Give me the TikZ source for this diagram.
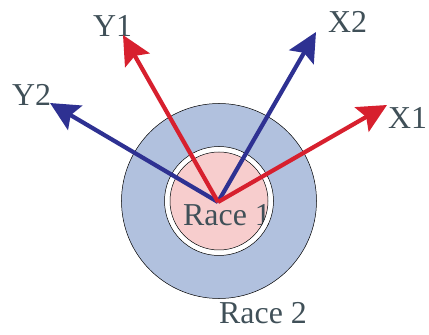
\documentclass[tikz,border=0pt]{standalone}
\usepackage{fontspec}
\setmainfont{Liberation Serif}
\usetikzlibrary{positioning,arrows.meta}
\definecolor{axred}{RGB}{215,32,46}
\definecolor{axblue}{RGB}{46,49,146}
\definecolor{racebl}{RGB}{177,193,222}
\definecolor{racepk}{RGB}{247,205,205}
\definecolor{txtgray}{RGB}{64,80,88}

\begin{document}
\begin{tikzpicture}[
  x=1bp, y=1bp,
  font=\fontsize{32}{34}\selectfont,
  ax/.style    = {-{Stealth[length=29bp, width=28bp, inset=5bp]}, line width=4.2bp},
  lab/.style   = {text=txtgray, inner sep=0pt, anchor=base west},
  ring/.style  = {draw=black, line width=0.5pt}
]
\useasboundingbox (0,0) rectangle (429,335);

% --- Races -------------------------------------------------------------------
\node[ring, circle, fill=racebl, minimum size=195bp, inner sep=0pt] (race2) at (219,134) {};
\node[circle, fill=racepk, minimum size=98bp, inner sep=0pt] (race1) at (race2.center) {};

\node[lab] (r1lab) at (183,110) {Race 1};
\node[lab] (r2lab) at (219,12) {Race 2};

% gap between the races, drawn over the text
\fill[white, even odd rule] (race1.center) circle[radius=54.5] circle[radius=49];
\node[ring, circle, minimum size=109bp, inner sep=0pt] (gap) at (race1.center) {};
\node[ring, circle, minimum size=98bp, inner sep=0pt] at (race1.center) {};

% --- Axes --------------------------------------------------------------------
\coordinate (o) at (218,133);
\coordinate (y1) at (123,300);
\coordinate (x2) at (316,303);
\coordinate (y2) at (50,232);
\coordinate (x1) at (387,230);

\node[lab] (y1lab) at (93,299) {Y1};
\node[lab] (x2lab) at (328,303) {X2};
\node[lab] (y2lab) at (12,230) {Y2};
\node[lab] (x1lab) at (388,207) {X1};

\draw[ax, axblue] (o) -- (y2);
\draw[ax, axblue] (o) -- (x2);
\draw[ax, axred]  (o) -- (y1);
\draw[ax, axred]  (o) -- (x1);

\end{tikzpicture}
\end{document}
